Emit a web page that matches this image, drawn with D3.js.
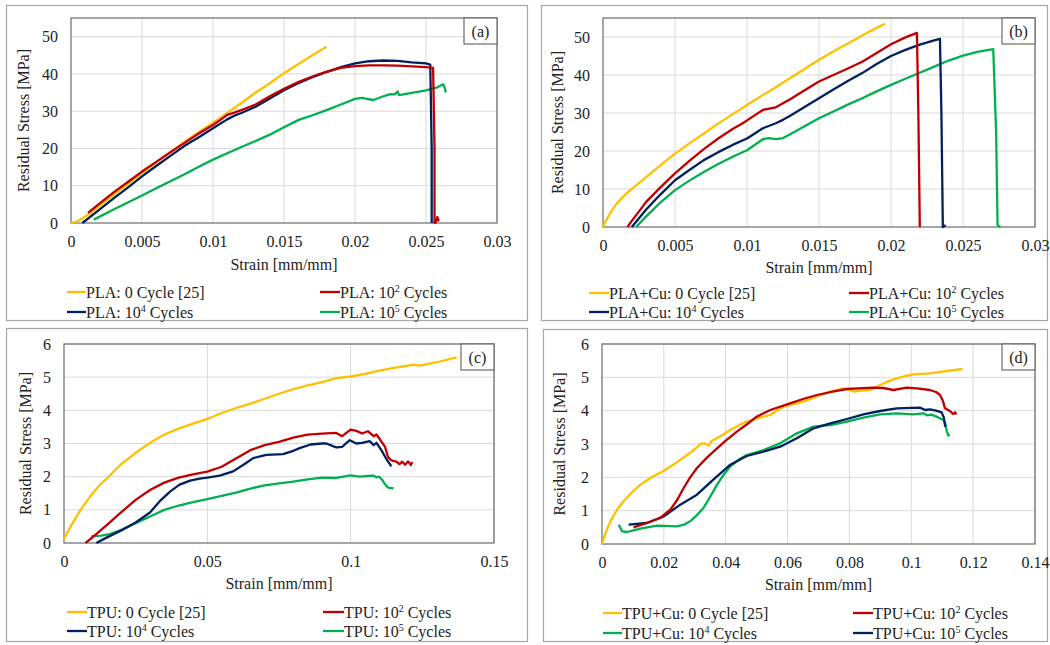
<!DOCTYPE html>
<html>
<head>
<meta charset="utf-8">
<script src="https://cdn.jsdelivr.net/npm/d3@7"></script>
<style>
  html, body { margin: 0; padding: 0; background: #fff; }
  svg, svg text { font-family: "Liberation Serif", "LiberationSerif", "Times New Roman", Times, "DejaVu Serif", serif; }
</style>
</head>
<body>
<svg id="fig" width="1050" height="645"></svg>
<script>
// ---------- (a) PLA : [strain, stress] ----------
const pla0 = [[0,0],[0.0004,0.4],[0.0008,1.2],[0.0014,2.8],[0.002,4.6],[0.003,7.6],[0.004,10.5],[0.005,13.4],[0.006,16.2],[0.007,19],[0.008,21.8],[0.009,24.4],[0.01,26.9],[0.011,29.5],[0.012,32.2],[0.013,35],[0.014,37.5],[0.015,40.2],[0.016,42.6],[0.017,45],[0.018,47.3]];
const pla2 = [[0.0012,2.7],[0.002,5.2],[0.003,8.2],[0.004,11],[0.005,13.8],[0.006,16.4],[0.007,19],[0.008,21.5],[0.009,24],[0.01,26.3],[0.0105,27.6],[0.011,29],[0.0115,29.6],[0.012,30.3],[0.013,31.8],[0.014,34],[0.015,36],[0.016,37.8],[0.017,39.3],[0.018,40.6],[0.019,41.6],[0.02,42.1],[0.021,42.3],[0.022,42.3],[0.023,42.2],[0.024,42],[0.025,41.8],[0.0255,41.6],[0.0256,20],[0.0256,0],[0.0257,0.2],[0.0258,1.6],[0.0259,0.5]];
const pla4 = [[0.0008,0],[0.002,3.6],[0.003,6.6],[0.004,9.5],[0.005,12.5],[0.006,15.3],[0.007,18],[0.008,20.7],[0.009,23],[0.01,25.4],[0.011,27.8],[0.0115,28.8],[0.012,29.5],[0.013,31.2],[0.014,33.4],[0.015,35.6],[0.016,37.5],[0.017,39.1],[0.018,40.5],[0.019,41.8],[0.02,42.8],[0.021,43.4],[0.022,43.6],[0.023,43.5],[0.024,43.1],[0.025,42.8],[0.0253,42.5],[0.0254,20],[0.0254,0]];
const pla5 = [[0.0016,0.9],[0.003,3.6],[0.004,5.5],[0.005,7.4],[0.006,9.3],[0.007,11.2],[0.008,13.1],[0.009,15.1],[0.01,17],[0.011,18.7],[0.012,20.4],[0.013,22],[0.014,23.7],[0.015,25.7],[0.016,27.6],[0.017,28.9],[0.018,30.3],[0.019,31.8],[0.02,33.3],[0.0205,33.6],[0.021,33.2],[0.0213,33],[0.022,34],[0.0225,34.6],[0.0228,34.5],[0.023,35.3],[0.0231,34.3],[0.024,34.9],[0.025,35.6],[0.0258,36.4],[0.0262,37.2],[0.0263,36.5],[0.0264,35]];

// ---------- (b) PLA+Cu ----------
const plaCu0 = [[0,0],[0.0001,0.9],[0.0003,2.3],[0.0006,4.3],[0.0009,5.9],[0.0013,7.6],[0.0018,9.4],[0.0024,11.3],[0.003,13.1],[0.004,16.3],[0.005,19.3],[0.006,22],[0.007,24.6],[0.008,27.2],[0.009,29.7],[0.01,32.1],[0.011,34.5],[0.012,36.8],[0.013,39.2],[0.014,41.6],[0.015,44],[0.016,46.2],[0.017,48.3],[0.018,50.4],[0.019,52.4],[0.0196,53.5]];
const plaCu2 = [[0.0017,0],[0.002,1.6],[0.003,6.6],[0.004,10.5],[0.005,14.1],[0.006,17.4],[0.007,20.5],[0.008,23.3],[0.009,25.8],[0.0097,27.3],[0.0105,29.3],[0.0111,30.8],[0.012,31.5],[0.013,33.6],[0.014,36],[0.015,38.3],[0.016,40],[0.017,41.7],[0.018,43.5],[0.019,45.8],[0.02,48.1],[0.021,49.9],[0.0218,51.1],[0.0219,30],[0.022,0]];
const plaCu4 = [[0.002,0],[0.003,4.6],[0.004,8.6],[0.005,12.3],[0.006,15],[0.007,17.6],[0.008,19.7],[0.009,21.6],[0.01,23.3],[0.0111,26],[0.012,27.3],[0.0125,28.2],[0.013,29.3],[0.014,31.6],[0.015,33.9],[0.016,36.2],[0.017,38.4],[0.018,40.5],[0.019,42.9],[0.02,45],[0.021,46.6],[0.022,48],[0.023,49.1],[0.0234,49.5],[0.0235,30],[0.0236,0],[0.0238,0.5]];
const plaCu5 = [[0.0023,0],[0.003,2.8],[0.004,6.5],[0.005,9.7],[0.006,12.2],[0.007,14.5],[0.008,16.6],[0.009,18.5],[0.01,20.2],[0.0105,21.5],[0.0111,23.1],[0.0115,23.4],[0.012,23.1],[0.0125,23.4],[0.013,24.4],[0.014,26.5],[0.015,28.6],[0.016,30.4],[0.017,32.2],[0.018,33.9],[0.019,35.7],[0.02,37.4],[0.021,39],[0.022,40.6],[0.023,42.2],[0.024,43.8],[0.025,45.1],[0.026,46.1],[0.0271,46.8],[0.0273,25],[0.0274,0.5],[0.0276,0]];

// ---------- (c) TPU ----------
const tpu0 = [[0,0.12],[0.002,0.45],[0.004,0.75],[0.006,1.03],[0.008,1.27],[0.01,1.5],[0.0125,1.75],[0.015,1.95],[0.0175,2.17],[0.02,2.38],[0.025,2.72],[0.03,3.02],[0.035,3.27],[0.04,3.45],[0.045,3.6],[0.05,3.74],[0.055,3.92],[0.06,4.07],[0.065,4.2],[0.07,4.35],[0.075,4.5],[0.08,4.64],[0.085,4.75],[0.09,4.85],[0.095,4.97],[0.1,5.02],[0.105,5.1],[0.11,5.2],[0.115,5.28],[0.12,5.35],[0.122,5.38],[0.124,5.35],[0.13,5.45],[0.137,5.6]];
const tpu2 = [[0.0075,0],[0.01,0.18],[0.015,0.55],[0.02,0.93],[0.025,1.3],[0.03,1.6],[0.035,1.82],[0.04,1.97],[0.045,2.07],[0.05,2.15],[0.055,2.3],[0.06,2.55],[0.065,2.8],[0.07,2.95],[0.075,3.05],[0.08,3.18],[0.085,3.27],[0.09,3.3],[0.095,3.32],[0.097,3.22],[0.1,3.42],[0.102,3.38],[0.104,3.3],[0.106,3.37],[0.108,3.22],[0.109,3.27],[0.11,3.15],[0.112,2.9],[0.113,2.6],[0.114,2.5],[0.116,2.45],[0.117,2.38],[0.118,2.45],[0.119,2.36],[0.12,2.46],[0.121,2.35],[0.1215,2.44]];
const tpu4 = [[0.0113,0],[0.015,0.17],[0.02,0.38],[0.025,0.62],[0.03,0.92],[0.0334,1.26],[0.037,1.55],[0.0403,1.76],[0.044,1.88],[0.0473,1.94],[0.05,1.97],[0.0543,2.03],[0.059,2.16],[0.063,2.38],[0.066,2.56],[0.0706,2.66],[0.0764,2.68],[0.08,2.78],[0.0822,2.86],[0.086,2.97],[0.09,3.0],[0.0915,3.0],[0.093,2.95],[0.095,2.88],[0.097,2.9],[0.0997,3.1],[0.102,3.0],[0.104,3.02],[0.1066,3.07],[0.108,2.95],[0.109,3.02],[0.111,2.76],[0.112,2.6],[0.113,2.46],[0.1142,2.31]];
const tpu5 = [[0.0095,0.2],[0.013,0.22],[0.016,0.27],[0.02,0.4],[0.025,0.6],[0.03,0.8],[0.035,1.0],[0.04,1.13],[0.045,1.23],[0.05,1.32],[0.055,1.42],[0.06,1.52],[0.065,1.64],[0.07,1.74],[0.075,1.8],[0.08,1.85],[0.085,1.92],[0.09,1.97],[0.095,1.96],[0.1,2.04],[0.103,2.0],[0.106,2.02],[0.108,2.03],[0.109,1.98],[0.11,2.0],[0.111,1.9],[0.112,1.77],[0.113,1.67],[0.115,1.65]];

// ---------- (d) TPU+Cu ----------
const tpuCu0 = [[0,0],[0.001,0.3],[0.0027,0.68],[0.005,1.05],[0.007,1.28],[0.01,1.58],[0.0124,1.78],[0.016,2.0],[0.02,2.2],[0.024,2.44],[0.0275,2.67],[0.03,2.84],[0.0318,3.0],[0.033,3.02],[0.0345,2.95],[0.0355,3.1],[0.038,3.22],[0.0415,3.42],[0.045,3.6],[0.0468,3.67],[0.05,3.76],[0.0522,3.82],[0.0544,3.87],[0.0565,4.0],[0.0587,4.12],[0.063,4.22],[0.066,4.3],[0.0684,4.39],[0.071,4.48],[0.0738,4.57],[0.0781,4.67],[0.0795,4.64],[0.0813,4.57],[0.084,4.6],[0.0867,4.62],[0.0899,4.77],[0.0925,4.88],[0.0953,4.97],[0.098,5.04],[0.1007,5.09],[0.106,5.12],[0.1115,5.19],[0.1166,5.25]];
const tpuCu2 = [[0.0102,0.5],[0.0145,0.63],[0.0188,0.78],[0.0221,1.03],[0.0243,1.32],[0.0264,1.68],[0.0285,2.0],[0.0307,2.28],[0.034,2.6],[0.0372,2.87],[0.04,3.1],[0.0436,3.37],[0.047,3.6],[0.05,3.82],[0.0544,4.02],[0.0608,4.22],[0.065,4.35],[0.0695,4.47],[0.075,4.58],[0.0792,4.65],[0.0878,4.69],[0.091,4.68],[0.0942,4.62],[0.0985,4.69],[0.1018,4.67],[0.106,4.62],[0.108,4.56],[0.1093,4.47],[0.1102,4.3],[0.1109,4.07],[0.1125,3.99],[0.1135,3.9],[0.1142,3.95],[0.1145,3.88]];
const tpuCu4 = [[0.0054,0.58],[0.0065,0.38],[0.0081,0.36],[0.0124,0.46],[0.0178,0.55],[0.0242,0.53],[0.0265,0.58],[0.0285,0.68],[0.0305,0.85],[0.0328,1.08],[0.035,1.42],[0.0372,1.78],[0.0395,2.1],[0.0415,2.33],[0.0445,2.55],[0.0468,2.67],[0.0522,2.82],[0.0576,3.02],[0.063,3.32],[0.0684,3.52],[0.0738,3.57],[0.0792,3.67],[0.0845,3.79],[0.0899,3.89],[0.0953,3.92],[0.1007,3.89],[0.1039,3.92],[0.105,3.86],[0.1065,3.88],[0.1082,3.82],[0.1104,3.72],[0.111,3.6],[0.1115,3.37],[0.112,3.25],[0.1123,3.3]];
const tpuCu5 = [[0.0086,0.58],[0.0145,0.63],[0.02,0.83],[0.0253,1.18],[0.0307,1.48],[0.036,1.93],[0.0415,2.38],[0.0468,2.64],[0.0522,2.77],[0.0576,2.92],[0.063,3.17],[0.0684,3.47],[0.0738,3.62],[0.0792,3.75],[0.0845,3.89],[0.0899,3.99],[0.0953,4.07],[0.1028,4.09],[0.1045,4.02],[0.106,4.04],[0.108,4.0],[0.1098,3.95],[0.1105,3.8],[0.1109,3.57],[0.111,3.52]];

// ---------- ticks ----------
const plaXTicks = [0, 0.005, 0.01, 0.015, 0.02, 0.025, 0.03];
const plaXLabels = ["0", "0.005", "0.01", "0.015", "0.02", "0.025", "0.03"];
const plaYTicks = [0, 10, 20, 30, 40, 50];
const tpuXTicks = [0, 0.05, 0.1, 0.15];
const tpuXLabels = ["0", "0.05", "0.1", "0.15"];
const tpuCuXTicks = [0, 0.02, 0.04, 0.06, 0.08, 0.1, 0.12, 0.14];
const tpuCuXLabels = ["0", "0.02", "0.04", "0.06", "0.08", "0.1", "0.12", "0.14"];
const tpuYTicks = [0, 1, 2, 3, 4, 5, 6];

// ---------- colours ----------
const C_YELLOW = "#FFC000", C_RED = "#C00000", C_NAVY = "#002060", C_GREEN = "#00B050";

const SERIF = "'Liberation Serif', 'LiberationSerif', 'Times New Roman', Times, 'DejaVu Serif', serif";
const FONT = 16;
const svg = d3.select("#fig").attr("font-family", SERIF);

const panels = [
  {
    tag: "(a)", frame: [6, 5, 521, 315], plot: { l: 71, r: 497, t: 18, b: 223 },
    xDomain: [0, 0.03], yDomain: [0, 55], xTicks: plaXTicks, xLabels: plaXLabels, yTicks: plaYTicks,
    yTitleX: 23, xTitleY: 264,
    series: [
      { data: pla0, color: C_YELLOW }, { data: pla5, color: C_GREEN },
      { data: pla4, color: C_NAVY }, { data: pla2, color: C_RED }
    ],
    legend: {
      rows: [292, 312], cols: [[67, 86], [320, 340]],
      items: [
        { color: C_YELLOW, pre: "PLA: 0 Cycle [25]" },
        { color: C_RED, pre: "PLA: 10", sup: "2", post: " Cycles" },
        { color: C_NAVY, pre: "PLA: 10", sup: "4", post: " Cycles" },
        { color: C_GREEN, pre: "PLA: 10", sup: "5", post: " Cycles" }
      ]
    }
  },
  {
    tag: "(b)", frame: [541, 5, 506, 315], plot: { l: 603, r: 1035, t: 18, b: 227 },
    xDomain: [0, 0.03], yDomain: [0, 55], xTicks: plaXTicks, xLabels: plaXLabels, yTicks: plaYTicks,
    yTitleX: 557, xTitleY: 267,
    series: [
      { data: plaCu0, color: C_YELLOW }, { data: plaCu5, color: C_GREEN },
      { data: plaCu4, color: C_NAVY }, { data: plaCu2, color: C_RED }
    ],
    legend: {
      rows: [293, 312], cols: [[589, 609], [849, 869]],
      items: [
        { color: C_YELLOW, pre: "PLA+Cu: 0 Cycle [25]" },
        { color: C_RED, pre: "PLA+Cu: 10", sup: "2", post: " Cycles" },
        { color: C_NAVY, pre: "PLA+Cu: 10", sup: "4", post: " Cycles" },
        { color: C_GREEN, pre: "PLA+Cu: 10", sup: "5", post: " Cycles" }
      ]
    }
  },
  {
    tag: "(c)", frame: [6, 328, 521, 313], plot: { l: 64, r: 494, t: 344, b: 543 },
    xDomain: [0, 0.15], yDomain: [0, 6], xTicks: tpuXTicks, xLabels: tpuXLabels, yTicks: tpuYTicks,
    yTitleX: 25, xTitleY: 583,
    series: [
      { data: tpu0, color: C_YELLOW }, { data: tpu5, color: C_GREEN },
      { data: tpu2, color: C_RED }, { data: tpu4, color: C_NAVY }
    ],
    legend: {
      rows: [612, 631], cols: [[67, 87], [323, 344]],
      items: [
        { color: C_YELLOW, pre: "TPU: 0 Cycle [25]" },
        { color: C_RED, pre: "TPU: 10", sup: "2", post: " Cycles" },
        { color: C_NAVY, pre: "TPU: 10", sup: "4", post: " Cycles" },
        { color: C_GREEN, pre: "TPU: 10", sup: "5", post: " Cycles" }
      ]
    }
  },
  {
    tag: "(d)", frame: [543, 329, 504, 312], plot: { l: 602, r: 1035, t: 344, b: 544 },
    xDomain: [0, 0.14], yDomain: [0, 6], xTicks: tpuCuXTicks, xLabels: tpuCuXLabels, yTicks: tpuYTicks,
    yTitleX: 559, xTitleY: 584,
    series: [
      { data: tpuCu0, color: C_YELLOW }, { data: tpuCu4, color: C_GREEN },
      { data: tpuCu5, color: C_NAVY }, { data: tpuCu2, color: C_RED }
    ],
    legend: {
      rows: [613, 633], cols: [[603, 622], [853, 873]],
      items: [
        { color: C_YELLOW, pre: "TPU+Cu: 0 Cycle [25]" },
        { color: C_RED, pre: "TPU+Cu: 10", sup: "2", post: " Cycles" },
        { color: C_GREEN, pre: "TPU+Cu: 10", sup: "4", post: " Cycles" },
        { color: C_NAVY, pre: "TPU+Cu: 10", sup: "5", post: " Cycles" }
      ]
    }
  }
];

function drawPanel(p) {
  const g = svg.append("g").attr("font-family", SERIF);
  const { l, r, t, b } = p.plot;

  // outer panel border
  g.append("rect")
    .attr("x", p.frame[0] + 0.5).attr("y", p.frame[1] + 0.5)
    .attr("width", p.frame[2]).attr("height", p.frame[3])
    .attr("fill", "none").attr("stroke", "#a6a6a6").attr("stroke-width", 1.2);

  const x = d3.scaleLinear().domain(p.xDomain).range([l, r]);
  const y = d3.scaleLinear().domain(p.yDomain).range([b, t]);

  // gridlines
  g.append("g").selectAll("line").data(p.xTicks.slice(1)).join("line")
    .attr("x1", d => x(d)).attr("x2", d => x(d)).attr("y1", t).attr("y2", b)
    .attr("stroke", "#d9d9d9").attr("stroke-width", 1);
  g.append("g").selectAll("line").data(p.yTicks.slice(1)).join("line")
    .attr("x1", l).attr("x2", r).attr("y1", d => y(d)).attr("y2", d => y(d))
    .attr("stroke", "#d9d9d9").attr("stroke-width", 1);

  // axes (labels only)
  const xa = g.append("g").attr("transform", `translate(0,${b})`)
    .call(d3.axisBottom(x).tickValues(p.xTicks).tickFormat((d, i) => p.xLabels[i]).tickSize(0).tickPadding(13));
  const ya = g.append("g").attr("transform", `translate(${l},0)`)
    .call(d3.axisLeft(y).tickValues(p.yTicks).tickFormat(d3.format("d")).tickSize(0).tickPadding(13));
  [xa, ya].forEach(a => {
    a.attr("font-family", SERIF).attr("font-size", FONT);
    a.select(".domain").remove();
    a.selectAll("text").attr("font-size", FONT).attr("fill", "#222").attr("font-family", SERIF);
  });

  // plot frame
  g.append("rect").attr("x", l).attr("y", t).attr("width", r - l).attr("height", b - t)
    .attr("fill", "none").attr("stroke", "#6b6b6b").attr("stroke-width", 1.2);

  // curves
  const line = d3.line().x(d => x(d[0])).y(d => y(d[1]));
  p.series.forEach(s => {
    g.append("path").attr("d", line(s.data)).attr("fill", "none")
      .attr("stroke", s.color).attr("stroke-width", 2.3)
      .attr("stroke-linejoin", "round").attr("stroke-linecap", "butt");
  });

  // panel tag box
  g.append("rect").attr("x", r - 33).attr("y", t).attr("width", 33).attr("height", 26)
    .attr("fill", "#fff").attr("stroke", "#6b6b6b").attr("stroke-width", 1.2);
  g.append("text").attr("x", r - 16.5).attr("y", t + 18.5).attr("text-anchor", "middle")
    .attr("font-size", FONT).attr("fill", "#222").text(p.tag);

  // axis titles
  g.append("text").attr("x", (l + r) / 2).attr("y", p.xTitleY + 5.5).attr("text-anchor", "middle")
    .attr("font-size", FONT).attr("fill", "#222").text("Strain [mm/mm]");
  g.append("text").attr("transform", `translate(${p.yTitleX + 5.5},${(t + b) / 2}) rotate(-90)`)
    .attr("text-anchor", "middle").attr("font-size", FONT).attr("fill", "#222")
    .text("Residual Stress [MPa]");

  // legend (2 x 2)
  p.legend.items.forEach((it, i) => {
    const row = Math.floor(i / 2), col = i % 2;
    const cy = p.legend.rows[row];
    const [x0, x1] = p.legend.cols[col];
    g.append("line").attr("x1", x0).attr("x2", x1).attr("y1", cy).attr("y2", cy)
      .attr("stroke", it.color).attr("stroke-width", 2.3);
    const txt = g.append("text").attr("x", x1).attr("y", cy + 5.5)
      .attr("font-size", FONT).attr("fill", "#222");
    txt.append("tspan").text(it.pre);
    if (it.sup) {
      txt.append("tspan").attr("dy", -6).attr("font-size", 10).text(it.sup);
      txt.append("tspan").attr("dy", 6).text(it.post);
    }
  });
}

panels.forEach(drawPanel);
</script>
</body>
</html>
